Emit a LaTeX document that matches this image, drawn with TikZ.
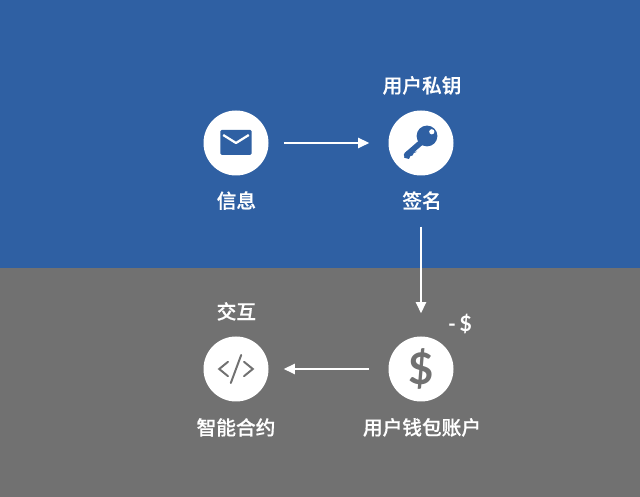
\documentclass[tikz,border=0pt]{standalone}
\usepackage{fontspec}
\newfontfamily\cjk[FakeBold=0.5]{Noto Sans CJK SC Medium}
\newfontfamily\latofont{Lato}
\usetikzlibrary{positioning,arrows.meta}
\definecolor{topblue}{HTML}{2F60A3}
\definecolor{lowgray}{HTML}{717171}

\begin{document}
\begin{tikzpicture}[
  disc/.style={circle, fill=white, minimum size=1.625cm, inner sep=0},
  lbl/.style={text=white, font=\cjk\fontsize{14}{16}\selectfont, inner sep=0},
  arr/.style={-{Stealth[length=2.8mm,width=2.6mm,inset=0pt]}, white, line width=1pt},
  codeline/.style={lowgray, line width=1.4pt, line cap=round, line join=miter}
]
\useasboundingbox (0,0) rectangle (16,12.425);

%% ── background ──────────────────────────────────────────────────────────
\fill[topblue] (0,5.725) rectangle (16,12.425);
\fill[lowgray] (0,0) rectangle (16,5.725);

%% ── nodes ───────────────────────────────────────────────────────────────
\node[disc] (msg)    at (5.9,    8.85) {};
\node[disc] (sign)   at (10.525, 8.85) {};
\node[disc] (wallet) at (10.525, 3.2)  {};
\node[disc] (code)   at (5.9,    3.2)  {};

% Labels
\node[lbl] (msglbl)  at (5.91,   7.41)  {信息};
\node[lbl] (signlbl) at (10.55,  7.41)  {签名};
\node[lbl] (keylbl)  at (10.55,  10.29) {用户私钥};
\node[lbl] (actlbl)  at (5.91,   4.64)  {交互};
\node[lbl] (ctrlbl)  at (5.9,    1.74)  {智能合约};
\node[lbl] (acclbl)  at (10.55,  1.74)  {用户钱包账户};
\node[text=white, inner sep=0, font=\latofont\bfseries\fontsize{15}{18}\selectfont]
     (cost) at (11.5, 4.325) {-\,\$};

%% ── icons ───────────────────────────────────────────────────────────────
% Envelope
\begin{scope}[shift={(msg.center)}]
  \fill[topblue, rounded corners=1pt] (-0.39,-0.3) rectangle (0.39,0.33);
  \draw[white, line width=1.6pt, line join=round] (-0.32,0.2) -- (0,0) -- (0.32,0.2);
\end{scope}

% Key
\begin{scope}[shift={(sign.center)}]
  \fill[topblue] (0.15,0.175) circle (0.26);
  \draw[topblue, line width=4pt, line cap=round] (0.1,0.1) -- (-0.36,-0.3);
  \fill[topblue] (-0.36,-0.2) -- (-0.42,-0.37) -- (-0.30,-0.40) -- (-0.27,-0.33)
       -- (-0.21,-0.31) -- (-0.18,-0.25) -- (-0.1,-0.22) -- cycle;
  \fill[white] (0.27,0.28) circle (0.065);
\end{scope}

% Dollar sign
\node[text=lowgray, inner sep=0, font=\latofont\bfseries\fontsize{31}{36}\selectfont]
     (dollar) at (wallet.center) {\$};

% Code brackets
\begin{scope}[shift={(code.center)}]
  \draw[codeline] (-0.2,0.18) -- (-0.42,0) -- (-0.2,-0.18);
  \draw[codeline] (0.2,0.18) -- (0.42,0) -- (0.2,-0.18);
  \draw[codeline] (0.13,0.35) -- (-0.13,-0.35);
\end{scope}

%% ── edges ───────────────────────────────────────────────────────────────
\draw[arr, shorten <=0.375cm, shorten >=0.475cm] (msg) -- (sign);
\draw[arr, shorten <=0.65cm, shorten >=0.575cm] (sign |- signlbl) -- (wallet);
\draw[arr, shorten <=0.475cm, shorten >=0.375cm] (wallet) -- (code);

\end{tikzpicture}
\end{document}
